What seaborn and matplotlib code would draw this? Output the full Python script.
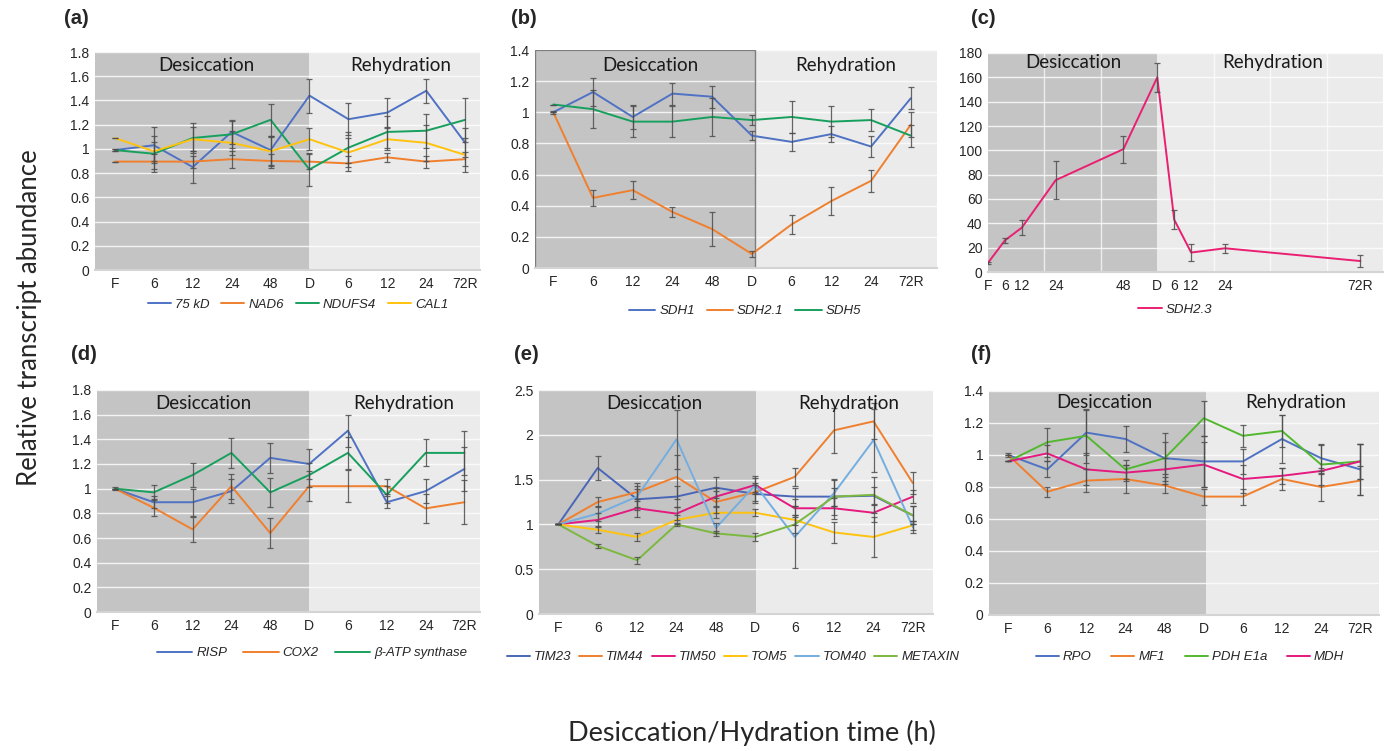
import numpy as np
import pandas as pd
import matplotlib
matplotlib.use("Agg")
import matplotlib.pyplot as plt
import seaborn as sns
from matplotlib.lines import Line2D
from matplotlib.ticker import MultipleLocator, FormatStrFormatter

# x axis: time points (panel c uses real hours)
time_labels = ["F", "6", "12", "24", "48", "D", "6", "12", "24", "72R"]
hours_c = [0, 6, 12, 24, 48, 60, 66, 72, 84, 132]

# (a)
a_genes = ["75 kD", "NAD6", "NDUFS4", "CAL1"]
a_75kd = [0.99, 1.03, 0.85, 1.14, 0.99, 1.44, 1.245, 1.30, 1.48, 1.05]
a_nad6 = [0.895, 0.895, 0.895, 0.915, 0.90, 0.895, 0.88, 0.93, 0.895, 0.915]
a_ndufs4 = [0.99, 0.96, 1.09, 1.12, 1.24, 0.83, 1.01, 1.14, 1.15, 1.24]
a_cal1 = [1.09, 0.98, 1.08, 1.05, 0.98, 1.08, 0.97, 1.08, 1.05, 0.95]
a_75kd_err = [0.01, 0.15, 0.13, 0.10, 0.12, 0.14, 0.13, 0.12, 0.10, 0.12]
a_nad6_err = [0.0, 0.06, 0.05, 0.07, 0.06, 0.06, 0.06, 0.04, 0.05, 0.06]
a_ndufs4_err = [0.01, 0.15, 0.12, 0.11, 0.13, 0.14, 0.13, 0.13, 0.14, 0.18]
a_cal1_err = [0.0, 0.08, 0.10, 0.10, 0.12, 0.09, 0.12, 0.09, 0.15, 0.14]

# (b)
b_genes = ["SDH1", "SDH2.1", "SDH5"]
b_sdh1 = [1.0, 1.13, 0.97, 1.12, 1.10, 0.85, 0.81, 0.86, 0.78, 1.09]
b_sdh21 = [1.0, 0.45, 0.50, 0.36, 0.25, 0.09, 0.28, 0.43, 0.56, 0.92]
b_sdh5 = [1.05, 1.02, 0.94, 0.94, 0.97, 0.95, 0.97, 0.94, 0.95, 0.85]
b_sdh1_err = [0.01, 0.09, 0.08, 0.07, 0.07, 0.03, 0.06, 0.05, 0.07, 0.07]
b_sdh21_err = [0.0, 0.05, 0.06, 0.03, 0.11, 0.02, 0.06, 0.09, 0.07, 0.08]
b_sdh5_err = [0.0, 0.12, 0.10, 0.10, 0.12, 0.03, 0.10, 0.10, 0.07, 0.07]

# (c)
c_genes = ["SDH2.3"]
c_sdh23 = [7.5, 26, 36.5, 75.5, 101, 160, 43, 16, 19.5, 9]
c_sdh23_err = [1, 2, 6, 15.5, 11, 12, 8, 7, 3.5, 5]

# (d)
d_genes = ["RISP", "COX2", "\u03b2-ATP synthase"]
d_risp = [1.0, 0.89, 0.89, 0.98, 1.25, 1.20, 1.47, 0.89, 0.98, 1.16]
d_cox2 = [1.0, 0.845, 0.67, 1.02, 0.64, 1.02, 1.02, 1.02, 0.84, 0.89]
d_batp = [1.0, 0.97, 1.11, 1.29, 0.97, 1.11, 1.29, 0.95, 1.29, 1.29]
d_risp_err = [0.01, 0.05, 0.11, 0.10, 0.12, 0.12, 0.13, 0.05, 0.10, 0.18]
d_cox2_err = [0.0, 0.07, 0.10, 0.10, 0.12, 0.12, 0.13, 0.06, 0.12, 0.18]
d_batp_err = [0.0, 0.06, 0.10, 0.12, 0.12, 0.10, 0.13, 0.07, 0.11, 0.18]

# (e)
e_genes = ["TIM23", "TIM44", "TIM50", "TOM5", "TOM40", "METAXIN"]
e_tim23 = [1.0, 1.63, 1.28, 1.31, 1.41, 1.34, 1.31, 1.31, 1.32, 1.10]
e_tim44 = [1.0, 1.25, 1.36, 1.53, 1.25, 1.36, 1.53, 2.05, 2.15, 1.46]
e_tim50 = [1.0, 1.05, 1.18, 1.12, 1.31, 1.44, 1.18, 1.18, 1.13, 1.31]
e_tom5 = [1.0, 0.94, 0.86, 1.05, 1.13, 1.13, 1.05, 0.91, 0.86, 0.99]
e_tom40 = [1.0, 1.12, 1.31, 1.95, 0.96, 1.44, 0.86, 1.35, 1.94, 0.97]
e_metaxin = [1.0, 0.76, 0.60, 1.0, 0.90, 0.86, 1.0, 1.31, 1.33, 1.10]
e_tim23_err = [0.0, 0.13, 0.12, 0.12, 0.12, 0.10, 0.10, 0.10, 0.10, 0.10]
e_tim44_err = [0.0, 0.06, 0.10, 0.25, 0.12, 0.10, 0.10, 0.25, 0.20, 0.12]
e_tim50_err = [0.0, 0.08, 0.10, 0.07, 0.10, 0.08, 0.10, 0.12, 0.10, 0.07]
e_tom5_err = [0.0, 0.04, 0.04, 0.05, 0.06, 0.04, 0.06, 0.12, 0.22, 0.05]
e_tom40_err = [0.0, 0.08, 0.12, 0.33, 0.06, 0.10, 0.35, 0.15, 0.35, 0.07]
e_metaxin_err = [0.0, 0.02, 0.04, 0.02, 0.03, 0.04, 0.10, 0.20, 0.20, 0.10]

# (f)
f_genes = ["RPO", "MF1", "PDH E1a", "MDH"]
f_rpo = [1.0, 0.91, 1.14, 1.10, 0.98, 0.96, 0.96, 1.10, 0.98, 0.91]
f_mf1 = [1.0, 0.77, 0.84, 0.85, 0.81, 0.74, 0.74, 0.85, 0.80, 0.84]
f_pdh = [0.96, 1.08, 1.12, 0.91, 0.98, 1.23, 1.12, 1.15, 0.94, 0.96]
f_mdh = [0.96, 1.01, 0.91, 0.89, 0.91, 0.94, 0.85, 0.87, 0.90, 0.96]
f_rpo_err = [0.01, 0.05, 0.14, 0.08, 0.16, 0.16, 0.08, 0.15, 0.08, 0.16]
f_mf1_err = [0.0, 0.03, 0.07, 0.09, 0.05, 0.05, 0.05, 0.07, 0.09, 0.09]
f_pdh_err = [0.0, 0.09, 0.17, 0.06, 0.10, 0.11, 0.07, 0.10, 0.13, 0.11]
f_mdh_err = [0.0, 0.05, 0.10, 0.05, 0.07, 0.14, 0.09, 0.05, 0.02, 0.11]

BLUE, ORANGE, GREEN, YELLOW = "#4f72c4", "#f07f2e", "#17a05d", "#ffc20e"
MAGENTA = "#e5197f"
DARK_BG, LIGHT_BG = "#c4c4c4", "#eaebea"

sns.set_style("white")
plt.rcParams["font.family"] = ["Liberation Sans Narrow", "Liberation Sans", "DejaVu Sans"]

W, H = 1391, 751
fig = plt.figure(figsize=(W / 100, H / 100), dpi=100)


def px_axes(x0, y0, x1, y1):
    return fig.add_axes([x0 / W, 1 - y1 / H, (x1 - x0) / W, (y1 - y0) / H])


def draw_panel(ax, x, genes, vals, errs, colors, xlim, split, ymax, ystep,
               des_xy, reh_xy, letter, leg_xy, leg_kw, outline=False):
    ax.set_xlim(*xlim)
    ax.set_ylim(0, ymax)
    ax.axvspan(xlim[0], split, color=DARK_BG, zorder=0, lw=0)
    ax.axvspan(split, xlim[1], color=LIGHT_BG, zorder=0, lw=0)
    if outline:
        ax.axvspan(xlim[0], split, facecolor="none", edgecolor="#7d7d7d",
                   lw=1.0, zorder=0.6)
    ax.set_axisbelow(True)
    ax.yaxis.set_major_locator(MultipleLocator(ystep))
    ax.yaxis.set_major_formatter(FormatStrFormatter("%g"))
    ax.grid(axis="y", color="white", lw=1.0, alpha=0.8)

    df = pd.DataFrame({
        "x": np.tile(x, len(genes)),
        "val": np.concatenate(vals),
        "gene": np.repeat(genes, len(x)),
    })
    sns.lineplot(data=df, x="x", y="val", hue="gene", hue_order=genes,
                 palette=colors, legend=False, ax=ax, lw=1.4, sort=False,
                 errorbar=None)
    for v, e in zip(vals, errs):
        ax.errorbar(x, v, yerr=e, fmt="none", ecolor="#4d4d4d", elinewidth=0.9,
                    capsize=2.2, capthick=0.9, alpha=0.85, zorder=3)

    ax.set_xticks(x)
    ax.set_xticklabels(time_labels)
    ax.tick_params(axis="both", length=0, labelsize=10, pad=5)
    ax.tick_params(axis="y", pad=4)
    ax.set_xlabel("")
    ax.set_ylabel("")
    for s in ["top", "right", "left"]:
        ax.spines[s].set_visible(False)
    ax.spines["bottom"].set_color("#d4d4d4")
    ax.spines["bottom"].set_linewidth(1.5)

    ax.text(des_xy[0], des_xy[1], "Desiccation", transform=ax.transAxes,
            ha="center", va="center", fontsize=13.5, family="Lato", color="#1a1a1a")
    ax.text(reh_xy[0], reh_xy[1], "Rehydration", transform=ax.transAxes,
            ha="center", va="center", fontsize=13.5, family="Lato", color="#1a1a1a")
    fig.text(letter[0] / W, 1 - letter[1] / H, letter[2], fontsize=14.5,
             fontweight="bold", family="Liberation Sans", ha="left", va="center")

    handles = [Line2D([], [], color=c, lw=1.4) for c in colors]
    fig.legend(handles, genes, loc="center",
               bbox_to_anchor=(leg_xy[0] / W, 1 - leg_xy[1] / H),
               ncol=len(genes), frameon=False, handletextpad=0.3,
               prop={"family": "Liberation Sans", "style": "italic", "size": 9.5},
               **leg_kw)


pos = np.arange(10)

ax_a = px_axes(95, 52, 480, 270)
draw_panel(ax_a, pos, a_genes, [a_75kd, a_nad6, a_ndufs4, a_cal1],
           [a_75kd_err, a_nad6_err, a_ndufs4_err, a_cal1_err],
           [BLUE, ORANGE, GREEN, YELLOW], (-0.51, 9.38), 5, 1.8, 0.2,
           (0.288, 0.94), (0.795, 0.94), (64, 19, "(a)"), (298, 305),
           dict(handlelength=1.75, columnspacing=0.9))

ax_b = px_axes(535, 50, 937, 268)
draw_panel(ax_b, pos, b_genes, [b_sdh1, b_sdh21, b_sdh5],
           [b_sdh1_err, b_sdh21_err, b_sdh5_err],
           [BLUE, ORANGE, GREEN], (-0.46, 9.66), 5.08, 1.4, 0.2,
           (0.286, 0.93), (0.774, 0.93), (511, 19, "(b)"), (745, 311),
           dict(handlelength=2.0, columnspacing=0.9), outline=True)

ax_c = px_axes(988, 53, 1383, 272)
draw_panel(ax_c, hours_c, c_genes, [c_sdh23], [c_sdh23_err],
           ["#ea1f72"], (0, 140), 60, 180, 20,
           (0.215, 0.955), (0.72, 0.955), (971, 19, "(c)"), (1175, 310),
           dict(handlelength=1.8, columnspacing=0.9))
ax_c.xaxis.set_minor_locator(MultipleLocator(20))
ax_c.grid(axis="x", which="minor", color="white", lw=1.0, alpha=0.7)

ax_d = px_axes(97, 390, 480, 612)
draw_panel(ax_d, pos, d_genes, [d_risp, d_cox2, d_batp],
           [d_risp_err, d_cox2_err, d_batp_err],
           [BLUE, ORANGE, GREEN], (-0.46, 9.4), 5, 1.8, 0.2,
           (0.277, 0.94), (0.80, 0.94), (71, 355, "(d)"), (312, 653),
           dict(handlelength=2.7, columnspacing=1.2))

ax_e = px_axes(539, 390, 933, 614)
draw_panel(ax_e, pos, e_genes,
           [e_tim23, e_tim44, e_tim50, e_tom5, e_tom40, e_metaxin],
           [e_tim23_err, e_tim44_err, e_tim50_err, e_tom5_err, e_tom40_err, e_metaxin_err],
           ["#4a66b8", ORANGE, MAGENTA, YELLOW, "#74aee0", "#7cb83f"],
           (-0.49, 9.51), 5.01, 2.5, 0.5,
           (0.293, 0.94), (0.786, 0.94), (514, 355, "(e)"), (733, 657),
           dict(handlelength=1.75, columnspacing=0.6))

ax_f = px_axes(989, 391, 1379, 615)
draw_panel(ax_f, pos, f_genes, [f_rpo, f_mf1, f_pdh, f_mdh],
           [f_rpo_err, f_mf1_err, f_pdh_err, f_mdh_err],
           [BLUE, ORANGE, "#53b82f", MAGENTA], (-0.49, 9.48), 5.07, 1.4, 0.2,
           (0.297, 0.95), (0.787, 0.95), (971, 355, "(f)"), (1190, 657),
           dict(handlelength=1.75, columnspacing=1.5))

fig.text(30 / W, 1 - 318 / H, "Relative transcript abundance", rotation=90,
         ha="center", va="center", fontsize=18.5, family="Lato")
fig.text(752 / W, 1 - 733 / H, "Desiccation/Hydration time (h)",
         ha="center", va="center", fontsize=19.5, family="Lato")

fig.savefig("out.png", dpi=100)
